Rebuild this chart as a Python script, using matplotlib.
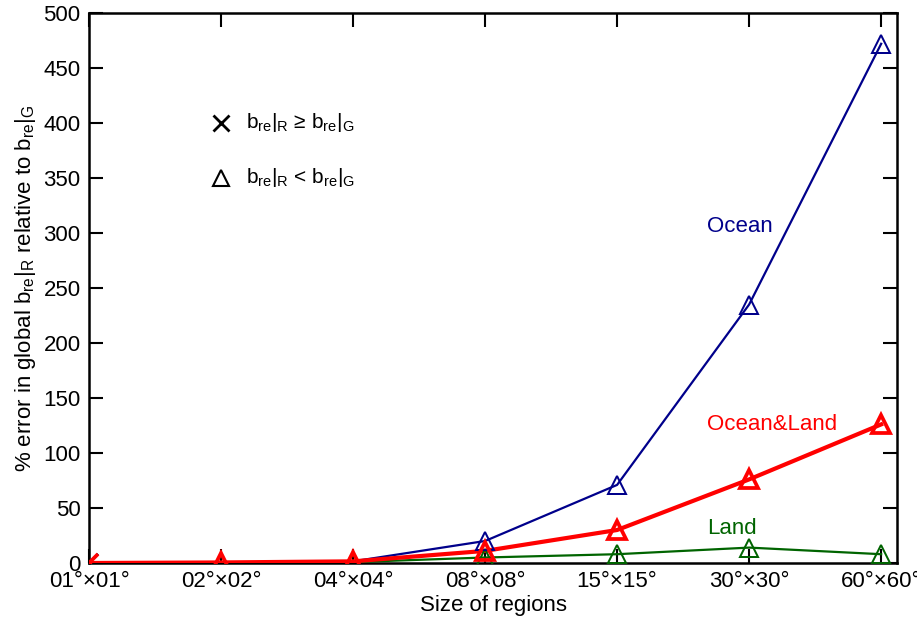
import matplotlib

matplotlib.use("Agg")
import matplotlib.pyplot as plt

plt.rcParams["font.family"] = ["Liberation Sans", "DejaVu Sans"]
plt.rcParams["mathtext.fontset"] = "custom"
plt.rcParams["mathtext.rm"] = "Liberation Sans"
plt.rcParams["mathtext.it"] = "Liberation Sans"

region_labels = ["01°×01°", "02°×02°", "04°×04°", "08°×08°", "15°×15°", "30°×30°", "60°×60°"]
ocean = [0, 0.5, 1.5, 20, 71, 235, 472]
ocean_land = [0, 0.5, 1.5, 11, 30, 76, 126]
land = [0, 0.3, 0.8, 5, 8, 14, 8]
# marker kind per point: "x" means b_re|R >= b_re|G, "^" means b_re|R < b_re|G
ocean_kind = ["x", "^", "^", "^", "^", "^", "^"]
ocean_land_kind = ["x", "^", "^", "^", "^", "^", "^"]
land_kind = ["x", "^", "^", "^", "^", "^", "^"]

series = [
    ("Land", land, land_kind, "#006400", 1.6),
    ("Ocean", ocean, ocean_kind, "#00008B", 1.6),
    ("Ocean&Land", ocean_land, ocean_land_kind, "#FF0000", 3.0),
]

FS = 16

fig = plt.figure(figsize=(9.17, 6.2), dpi=100)
ax = fig.add_axes([89 / 917, 1 - 563 / 620, 808 / 917, 550 / 620])
x = list(range(len(region_labels)))

for name, vals, kinds, color, lw in series:
    ax.plot(x, vals, color=color, lw=lw, zorder=3)
    for xi, yi, k in zip(x, vals, kinds):
        if k == "^":
            ax.plot(xi, yi, marker="^", ms=13, mfc="none", mec=color, mew=lw * 0.9, zorder=4)
        else:
            ax.plot(xi, yi, marker="x", ms=13, mec=color, mew=lw * 0.9, zorder=4)

ax.text(4.68, 306, "Ocean", color="#00008B", fontsize=FS, va="center")
ax.text(4.68, 126, "Ocean&Land", color="#FF0000", fontsize=FS, va="center")
ax.text(4.68, 31, "Land", color="#006400", fontsize=FS, va="center")

# legend drawn as markers and text in data space
ax.plot(1.0, 400, marker="x", ms=11, color="black", mew=2)
ax.plot(1.0, 350, marker="^", ms=11, mfc="none", mec="black", mew=1.5)
ax.text(1.19, 400, r"b$_\mathregular{re}$|$_\mathregular{R}$ ≥ b$_\mathregular{re}$|$_\mathregular{G}$",
        fontsize=15, va="center")
ax.text(1.19, 350, r"b$_\mathregular{re}$|$_\mathregular{R}$ < b$_\mathregular{re}$|$_\mathregular{G}$",
        fontsize=15, va="center")

ax.set_xlim(0, 6.12)
ax.set_ylim(0, 500)
ax.set_xticks(x)
ax.set_xticklabels(region_labels, fontsize=FS)
ax.set_yticks(range(0, 501, 50))
ax.tick_params(axis="y", labelsize=FS)
ax.tick_params(direction="in", length=10, width=1.5, top=True, right=True, pad=6)
for sp in ax.spines.values():
    sp.set_linewidth(1.8)

ax.set_xlabel("Size of regions", fontsize=FS, labelpad=2)
ax.set_ylabel(r"% error in global b$_\mathregular{re}$|$_\mathregular{R}$ relative to b$_\mathregular{re}$|$_\mathregular{G}$",
              fontsize=FS, labelpad=4)

fig.savefig("out.png", dpi=100)
